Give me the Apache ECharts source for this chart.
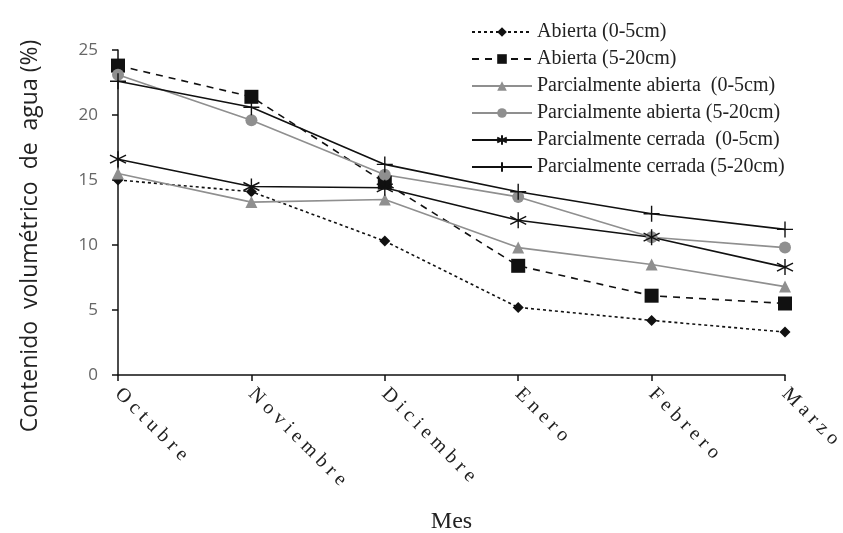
<!DOCTYPE html>
<html>
<head>
<meta charset="utf-8">
<script src="https://cdn.jsdelivr.net/npm/echarts@6/dist/echarts.min.js"></script>
<style>
  html, body { margin: 0; padding: 0; background: #fff; }
  #chart { width: 843px; height: 533px; }
</style>
</head>
<body>
<div id="chart"></div>
<script>
const months = ['Octubre', 'Noviembre', 'Diciembre', 'Enero', 'Febrero', 'Marzo'];
const yTicks = [0, 5, 10, 15, 20, 25];

const abierta05 = [15.0, 14.1, 10.3, 5.2, 4.2, 3.3];
const abierta520 = [23.8, 21.4, 14.8, 8.4, 6.1, 5.5];
const parcAbierta05 = [15.5, 13.3, 13.5, 9.8, 8.5, 6.8];
const parcAbierta520 = [23.1, 19.6, 15.4, 13.7, 10.6, 9.8];
const parcCerrada05 = [16.6, 14.5, 14.4, 11.9, 10.6, 8.3];
const parcCerrada520 = [22.6, 20.6, 16.2, 14.1, 12.4, 11.2];

const names = [
  'Abierta (0-5cm)',
  'Abierta (5-20cm)',
  'Parcialmente abierta  (0-5cm)',
  'Parcialmente abierta (5-20cm)',
  'Parcialmente cerrada  (0-5cm)',
  'Parcialmente cerrada (5-20cm)'
];

const black = '#111';
const grey = '#8f8f8f';
const asterisk = 'path://M0,-10L0,10M-8.7,-5L8.7,5M-8.7,5L8.7,-5';
const plus = 'path://M0,-10L0,10M-7,0L7,0';

function serie(name, data, color, type, symbol, size, stroke) {
  return {
    name: name,
    type: 'line',
    data: data,
    symbol: symbol,
    symbolSize: size,
    showAllSymbol: true,
    lineStyle: { color: color, width: 1.6, type: type },
    itemStyle: stroke
      ? { color: 'transparent', borderColor: color, borderWidth: 1.4 }
      : { color: color, borderWidth: 0 },
    emphasis: { disabled: true },
    animation: false
  };
}

const chart = echarts.init(document.getElementById('chart'));
chart.setOption({
  backgroundColor: '#fff',
  animation: false,
  grid: { left: 118, right: 58, top: 50, bottom: 158, outerBoundsMode: 'none', containLabel: false },
  legend: {
    orient: 'vertical',
    left: 466,
    top: 17,
    itemWidth: 60,
    itemHeight: 12,
    itemGap: 7,
    data: names,
    textStyle: { fontFamily: 'Liberation Serif', fontSize: 20, color: '#222' },
    selectedMode: false
  },
  xAxis: {
    type: 'category',
    data: months,
    boundaryGap: false,
    name: 'Mes',
    nameLocation: 'middle',
    nameGap: 135,
    nameTextStyle: { fontFamily: 'Liberation Serif', fontSize: 24, color: '#222' },
    axisLine: { lineStyle: { color: black, width: 1.5 } },
    axisTick: { alignWithLabel: true, length: 6, lineStyle: { color: black, width: 1.5 } },
    axisLabel: {
      rotate: -45,
      margin: 16,
      fontFamily: 'Liberation Serif',
      fontSize: 20,
      color: '#222',
      formatter: v => v.split('').join(' ')
    }
  },
  yAxis: {
    type: 'value',
    min: yTicks[0],
    max: yTicks[yTicks.length - 1],
    interval: 5,
    splitLine: { show: false },
    axisLine: { show: true, lineStyle: { color: black, width: 1.5 } },
    axisTick: { show: true, length: 6, lineStyle: { color: black, width: 1.5 } },
    axisLabel: { margin: 20, fontFamily: 'Open Sans', fontSize: 17, color: '#666' }
  },
  graphic: [{
    type: 'text',
    x: 30,
    y: 236,
    rotation: Math.PI / 2,
    style: {
      text: 'Contenido  volumétrico  de  agua (%)',
      fontFamily: 'Open Sans',
      fontSize: 23,
      fill: '#222',
      align: 'center',
      verticalAlign: 'middle'
    }
  }],
  series: [
    serie(names[0], abierta05, black, [3, 3], 'diamond', 11, false),
    serie(names[1], abierta520, black, [7, 6], 'rect', 14, false),
    serie(names[2], parcAbierta05, grey, 'solid', 'triangle', 12, false),
    serie(names[3], parcAbierta520, grey, 'solid', 'circle', 12, false),
    serie(names[4], parcCerrada05, black, 'solid', asterisk, 16, true),
    serie(names[5], parcCerrada520, black, 'solid', plus, 16, true)
  ]
});
</script>
</body>
</html>
